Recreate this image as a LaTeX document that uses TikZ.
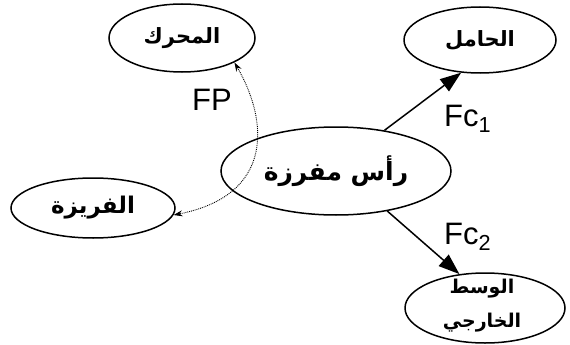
\documentclass[tikz,border=0pt]{standalone}
\usepackage{fontspec}
\setmainfont{Liberation Sans}
\newfontfamily\arabicfont[Script=Arabic]{DejaVu Sans}
\TeXXeTstate=1
\usetikzlibrary{arrows.meta,shapes.geometric}
\newcommand{\arsize}[1]{\arabicfont\bfseries\fontsize{#1}{34}\selectfont}
\begin{document}
\begin{tikzpicture}[x=1pt,y=-1pt,
  oval/.style={ellipse, draw, line width=1.5pt, inner sep=0pt},
  arlab/.style={align=center, inner sep=0pt},
  force/.style={line width=1.5pt, -{Triangle[length=21pt,width=15pt]}},
  flux/.style={line width=0.9pt, densely dotted,
    {Stealth[length=9pt,width=6pt]}-{Stealth[length=9pt,width=6pt]}},
  flab/.style={font=\fontsize{31}{31}\selectfont, inner sep=0pt, anchor=base west}]
\useasboundingbox (0,0) rectangle (570,345);
\node[oval, minimum width=146pt, minimum height=68pt, font=\arsize{21}] (motor) at (182,38) {\beginR المحرك\endR};
\node[oval, minimum width=152pt, minimum height=66pt, font=\arsize{21}] (carrier) at (480,40) {\beginR الحامل\endR};
\node[oval, minimum width=230pt, minimum height=88pt, font=\arsize{25}] (head) at (336,171) {\beginR رأس مفرزة\endR};
\node[oval, minimum width=164pt, minimum height=60pt, font=\arsize{23}] (cutter) at (93,208) {\beginR الفريزة\endR};
\node[oval, minimum width=160pt, minimum height=70pt] (outer) at (485,308) {};
\node[arlab, font=\arsize{19}] (outertext) at (482,306) {\beginR الوسط\endR\\\beginR الخارجي\endR};
\draw[force] (head.40) -- (carrier.-120);
\draw[force] (head.-38) -- (outer.127);
\draw[flux] (motor.-25) .. controls (268,120) and (275,195) .. (cutter.-5);
\node[flab] (fp) at (192,110) {FP};
\node[flab] (fc1) at (444,126) {Fc\textsubscript{1}};
\node[flab] (fc2) at (444,244) {Fc\textsubscript{2}};
\end{tikzpicture}
\end{document}
